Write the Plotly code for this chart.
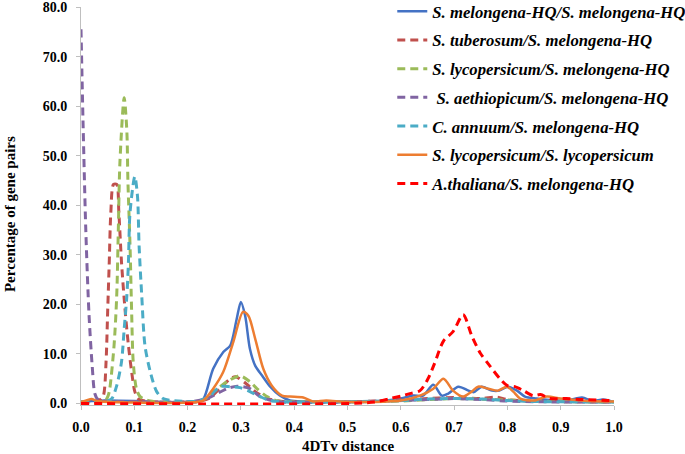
import plotly.graph_objects as go

# ---- data ----
names = [
    "S. melongena-HQ/S. melongena-HQ",
    "S. tuberosum/S. melongena-HQ",
    "S. lycopersicum/S. melongena-HQ",
    " S. aethiopicum/S. melongena-HQ",
    "C. annuum/S. melongena-HQ",
    "S. lycopersicum/S. lycopersicum",
    "A.thaliana/S. melongena-HQ",
]

mel_x = [0, 0.02, 0.05, 0.1, 0.15, 0.2, 0.22, 0.23, 0.248, 0.267, 0.28, 0.292, 0.3, 0.308, 0.317,
         0.327, 0.34, 0.355, 0.373, 0.392, 0.42, 0.45, 0.5, 0.55, 0.6, 0.623, 0.642, 0.661, 0.677,
         0.689, 0.708, 0.727, 0.737, 0.752, 0.771, 0.785, 0.801, 0.818, 0.833, 0.855, 0.88, 0.91,
         0.94, 0.96, 0.98, 1.0]
mel_y = [0.3, 0.5, 0.6, 0.5, 0.3, 0.3, 0.4, 1.0, 7.0, 10.4, 11.7, 17.0, 20.5, 17.7, 11.0,
         7.6, 5.6, 3.4, 1.6, 0.6, 0.4, 0.3, 0.3, 0.4, 1.0, 1.6, 1.6, 3.8, 1.6,
         2.0, 3.4, 2.6, 2.3, 3.4, 2.6, 2.6, 3.4, 2.6, 1.4, 1.0, 0.7, 0.6,
         1.2, 0.5, 0.8, 0.3]

tub_x = [0, 0.02, 0.03, 0.036, 0.042, 0.047, 0.05, 0.053, 0.056, 0.061, 0.067, 0.071, 0.076,
         0.083, 0.089, 0.095, 0.101, 0.107, 0.12, 0.15, 0.2, 0.22, 0.24, 0.26, 0.28, 0.29, 0.31,
         0.327, 0.35, 0.38, 0.42, 0.5, 0.55, 0.65, 0.7, 0.75, 0.78, 0.8, 0.85, 1.0]
tub_y = [0.3, 0.3, 0.5, 0.8, 1.6, 8.4, 18.5, 28.5, 38.6, 44.2, 44.2, 38.6, 28.5,
         18.5, 11.7, 6.4, 2.4, 1.0, 0.5, 0.3, 0.3, 0.4, 1.0, 3.0, 5.0, 5.4, 4.0,
         2.4, 1.0, 0.4, 0.3, 0.3, 0.5, 1.0, 1.2, 1.0, 1.3, 0.8, 0.5, 0.3]

lyc_x = [0, 0.03, 0.045, 0.051, 0.054, 0.062, 0.067, 0.07, 0.073, 0.081, 0.086, 0.088, 0.092,
         0.095, 0.098, 0.104, 0.111, 0.13, 0.2, 0.23, 0.25, 0.274, 0.298, 0.317, 0.33, 0.349,
         0.37, 0.45, 0.6, 0.7, 0.8, 0.9, 1.0]
lyc_y = [0.3, 0.3, 0.5, 1.6, 3.0, 11.7, 21.7, 35.0, 48.6, 61.7, 55.0, 45.0, 31.8,
         18.5, 8.4, 3.0, 1.4, 0.5, 0.3, 0.8, 2.5, 4.4, 5.6, 4.4, 3.0, 1.4,
         0.5, 0.3, 0.5, 1.0, 0.7, 0.4, 0.3]

aet_x = [0, 0.004, 0.009, 0.015, 0.021, 0.026, 0.032, 0.1, 0.2, 0.236, 0.274, 0.293, 0.317,
         0.336, 0.368, 0.5, 0.65, 0.7, 0.75, 0.8, 0.9, 1.0]
aet_y = [75.5, 56.0, 35.0, 18.0, 7.6, 2.0, 0.8, 0.4, 0.3, 1.0, 3.0, 3.5, 3.0,
         1.4, 0.4, 0.3, 0.8, 1.0, 0.8, 0.5, 0.3, 0.3]

ann_x = [0, 0.04, 0.05, 0.058, 0.067, 0.076, 0.081, 0.086, 0.089, 0.092, 0.101, 0.106, 0.109,
         0.114, 0.12, 0.13, 0.142, 0.154, 0.17, 0.22, 0.242, 0.261, 0.28, 0.298, 0.317, 0.33,
         0.355, 0.4, 0.6, 0.65, 0.7, 0.75, 0.8, 0.85, 1.0]
ann_y = [0.3, 0.3, 0.5, 1.0, 3.6, 8.4, 15.0, 21.7, 28.5, 38.6, 45.8, 41.8, 31.8,
         21.7, 11.7, 6.4, 2.4, 1.0, 0.6, 0.5, 1.6, 3.4, 3.4, 3.2, 2.4, 1.7,
         0.6, 0.3, 0.6, 0.9, 1.0, 0.9, 0.6, 0.4, 0.3]

ll_x = [0, 0.01, 0.02, 0.03, 0.1, 0.2, 0.229, 0.248, 0.267, 0.286, 0.304, 0.314, 0.327, 0.342,
        0.358, 0.377, 0.392, 0.417, 0.435, 0.46, 0.5, 0.6, 0.636, 0.661, 0.68, 0.698, 0.717,
        0.733, 0.745, 0.764, 0.782, 0.799, 0.811, 0.824, 0.85, 0.874, 0.9, 0.95, 1.0]
ll_y = [0.3, 0.6, 0.9, 0.5, 0.2, 0.2, 0.6, 3.0, 6.4, 12.5, 18.5, 17.7, 13.0, 7.0,
        3.6, 1.6, 1.4, 1.2, 0.4, 0.6, 0.3, 0.6, 1.6, 3.0, 5.0, 2.6, 1.4,
        2.4, 3.4, 3.0, 2.6, 3.4, 2.4, 1.0, 0.6, 1.4, 1.0, 0.5, 0.4]

ath_x = [0, 0.5, 0.55, 0.58, 0.6, 0.617, 0.636, 0.651, 0.663, 0.68, 0.698, 0.717, 0.733, 0.749,
         0.767, 0.786, 0.8, 0.814, 0.83, 0.848, 0.862, 0.88, 0.91, 0.94, 1.0]
ath_y = [0, 0, 0.3, 1.0, 1.5, 2.0, 2.6, 5.0, 8.0, 12.6, 14.5, 17.9, 13.7, 10.2,
         7.6, 5.0, 3.6, 3.4, 2.6, 1.6, 1.8, 1.0, 1.0, 0.8, 0.6]

series_x = [mel_x, tub_x, lyc_x, aet_x, ann_x, ll_x, ath_x]
series_y = [mel_y, tub_y, lyc_y, aet_y, ann_y, ll_y, ath_y]
colors = ["#4472C4", "#C0504D", "#9BBB59", "#8064A2", "#4BACC6", "#ED7D31", "#FF0000"]
dashes = ["solid", "8px,5px", "8px,5px", "8px,5px", "8px,5px", "solid", "8px,5px"]
widths = [2.5, 3, 3, 3, 3, 2.5, 3]

x_ticks = [0.0, 0.1, 0.2, 0.3, 0.4, 0.5, 0.6, 0.7, 0.8, 0.9, 1.0]
y_ticks = [0, 10, 20, 30, 40, 50, 60, 70, 80]

fig = go.Figure()
for i in range(len(names)):
    fig.add_trace(go.Scatter(
        x=series_x[i], y=series_y[i], name=names[i], mode="lines",
        line=dict(color=colors[i], width=widths[i], dash=dashes[i], shape="spline", smoothing=0.8),
        legendgroup="g%d" % i,
    ))

font_family = "Liberation Serif"
axis_col = "#BFBFBF"

fig.update_layout(
    width=685, height=454, autosize=False,
    margin=dict(l=81, r=71, t=7, b=49, autoexpand=False),
    paper_bgcolor="white", plot_bgcolor="white",
    font=dict(family=font_family, size=14, color="black"),
    showlegend=True,
    legend=dict(
        x=0.584, y=1.033, xanchor="left", yanchor="top",
        bgcolor="rgba(0,0,0,0)", borderwidth=0,
        font=dict(family=font_family, size=16.7, color="black", style="italic", weight="bold"),
        traceorder="grouped", tracegroupgap=4, itemwidth=30,
    ),
    xaxis=dict(
        range=[0, 1.0], tickvals=x_ticks, tickformat=".1f", automargin=False,
        showgrid=False, zeroline=False, showline=True, linecolor=axis_col, linewidth=1,
        ticks="outside", ticklen=4, tickcolor=axis_col, ticklabeloverflow="allow",
        tickfont=dict(family=font_family, size=14, weight="bold"),
        ticklabelstandoff=5,
    ),
    yaxis=dict(
        range=[-0.3, 80.01], tickvals=y_ticks, tickformat=".1f", automargin=False,
        showgrid=False, zeroline=False, showline=True, linecolor=axis_col, linewidth=1,
        ticks="outside", ticklen=4, tickcolor=axis_col, ticklabeloverflow="allow",
        tickfont=dict(family=font_family, size=14, weight="bold"),
        ticklabelstandoff=6,
    ),
    annotations=[
        dict(text="<b>Percentage of gene pairs</b>", xref="paper", yref="paper",
             x=-0.133, y=0.48, xanchor="center", yanchor="middle", textangle=-90,
             showarrow=False, font=dict(family=font_family, size=15)),
        dict(text="<b>4DTv distance</b>", xref="paper", yref="paper",
             x=0.5, y=-0.103, xanchor="center", yanchor="middle",
             showarrow=False, font=dict(family=font_family, size=15)),
    ],
)

fig.write_html("out.html", config={"displayModeBar": False},
               post_script="document.body.style.margin='0px';")
